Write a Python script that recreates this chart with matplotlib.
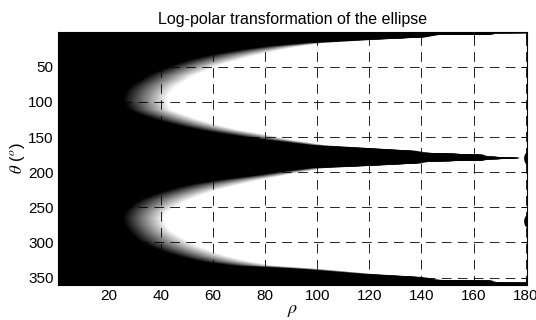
import numpy as np
import matplotlib
matplotlib.use('Agg')
import matplotlib.pyplot as plt
from matplotlib.patches import Ellipse

# boundary of the black region:
# for each theta row, black up to rho_black, grey ramp, white from rho_white
theta_edge = [0.5, 2.0, 2.3, 4.3, 4.8, 8.0, 11.5, 16, 21, 26, 33, 40, 47, 54.5, 62, 69,
              76, 83, 90, 97, 104, 111.5, 118, 125.7, 133, 140, 145, 149.5, 154, 158,
              162, 166, 170, 172.4, 172.9, 175.4, 177.7, 179.7, 180.6, 181.8, 183.2,
              184.6, 185.2, 187.2, 190.7, 194, 199, 204, 211, 218, 225, 232, 239,
              246.6, 255, 265, 275, 284.5, 291, 298.8, 306, 313, 320, 327, 333, 338,
              345, 349.5, 353.3, 354.3, 357.0, 357.4, 360.5]
rho_black = [181, 181, 168, 166, 145, 140, 118, 95, 80, 70, 59, 51, 45, 40, 35, 32,
             29, 27, 26, 25.5, 26.5, 28, 32, 38.5, 46, 55, 63, 71, 80, 89,
             98, 118, 137, 140, 145, 163, 164.5, 177, 176, 164.5, 163,
             145, 141, 138, 119, 97, 86, 77, 62, 50, 43, 37, 32,
             29, 26.5, 25.5, 26, 28, 29.5, 32, 36, 41, 47, 55, 67, 93,
             117, 139, 145, 166, 168, 181, 181]
rho_white = [181, 181, 169, 167.5, 146.5, 142, 123, 103, 93, 86, 77, 70, 63, 58, 53, 50,
             46.5, 44.5, 43, 42.5, 43, 44, 49, 55, 62, 70, 78, 85, 90, 97,
             104, 122, 140, 142, 147, 164.5, 166, 178, 177, 166, 164.5,
             147, 143, 141, 123, 104, 95, 88, 78, 70, 62, 56, 51,
             47, 43, 41, 42, 44, 47, 51, 55, 60, 66, 74, 84, 102,
             122, 142, 147, 167.5, 169.5, 181, 181]
# small black blobs on the right border
dot_theta = [180.5, 270]

rho_ticks = [20, 40, 60, 80, 100, 120, 140, 160, 180]
theta_ticks = [50, 100, 150, 200, 250, 300, 350]

plt.rcParams['font.family'] = ['Liberation Sans', 'DejaVu Sans']
plt.rcParams['mathtext.fontset'] = 'stix'
plt.rcParams['lines.scale_dashes'] = False

fig = plt.figure(figsize=(5.36, 3.2), dpi=100)
ax = fig.add_axes([0.1082, 0.1094, 0.875, 0.7906])
ax.set_facecolor('white')

th = np.array(theta_edge)
rb = np.array(rho_black)
rw = np.array(rho_white)

# grey ramp drawn as stacked layers, lightest first
n = 24
for k in range(n, -1, -1):
    f = k / n
    r = rb + (rw - rb) * f
    xs = np.concatenate([[0.5], r, [0.5]])
    ys = np.concatenate([[0.5], th, [360.5]])
    ax.fill(xs, ys, color=str(max(f - 0.5 / n, 0.0)), lw=0, zorder=1)

for t in dot_theta:
    ax.add_patch(Ellipse((180.9, t), 3.0, 18, color='k', lw=0, zorder=1.2))

ax.set_xlim(0.5, 180.5)
ax.set_ylim(360.5, 0.5)
ax.set_xticks(rho_ticks)
ax.set_yticks(theta_ticks)

ax.set_axisbelow(False)
ax.grid(True, color='k', linestyle=(0, (7, 4.5)), linewidth=0.6)
ax.tick_params(direction='in', top=True, right=True, length=4, width=0.6,
               labelsize=11, colors='k', pad=3)
for s in ax.spines.values():
    s.set_linewidth(0.8)
    s.set_zorder(3)

ax.set_title('Log-polar transformation of the ellipse', fontsize=11.5, pad=6)
ax.set_xlabel(r'$\rho$', fontsize=13, labelpad=-1)
ax.set_ylabel(r'$\theta$ ($^o$)', fontsize=12, labelpad=1)

fig.savefig('out.png', dpi=100)
